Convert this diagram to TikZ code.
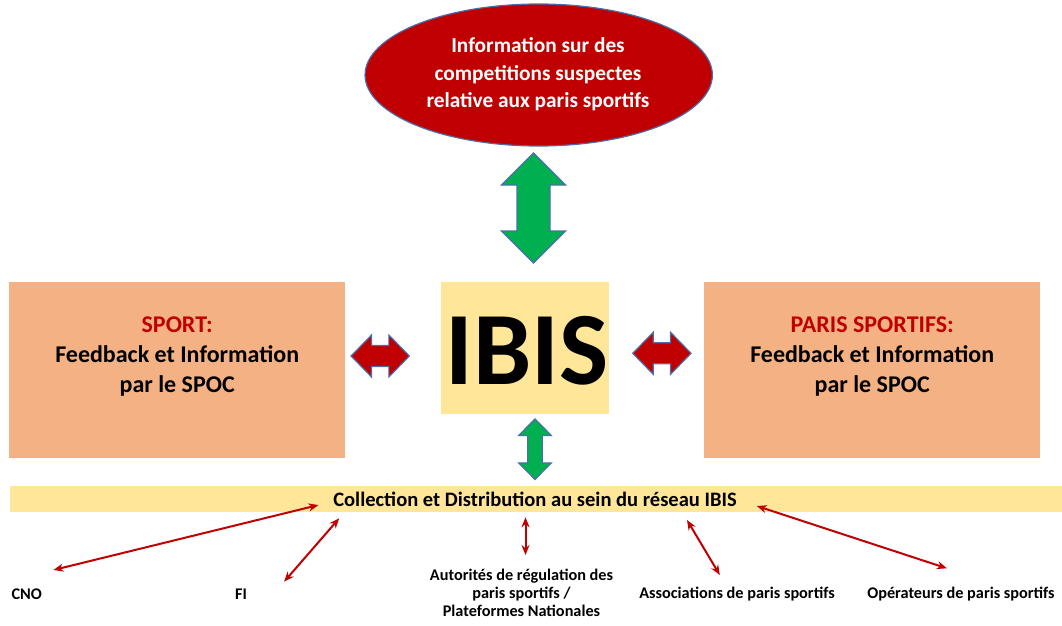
\documentclass[tikz,border=0pt]{standalone}
\usepackage{fontspec}
\setmainfont{Carlito}
\usetikzlibrary{shapes.geometric,arrows.meta}
\definecolor{dred}{HTML}{C00000}
\definecolor{fatgreen}{HTML}{00B050}
\definecolor{peach}{HTML}{F4B183}
\definecolor{pale}{HTML}{FFE699}
\definecolor{edgeblue}{HTML}{4A6EA8}
\begin{document}
\begin{tikzpicture}[x=0.75pt,y=-0.75pt,
  every node/.style={inner sep=0pt, outer sep=0pt},
  pics/fatarrow/.style n args={4}{code={
    \path[pic actions] (-#1/2,0) -- (-#1/2+#2,-#3) -- (-#1/2+#2,-#4) -- (#1/2-#2,-#4)
      -- (#1/2-#2,-#3) -- (#1/2,0) -- (#1/2-#2,#3) -- (#1/2-#2,#4)
      -- (-#1/2+#2,#4) -- (-#1/2+#2,#3) -- cycle;}},
  greenarrow/.style={fill=fatgreen, draw=edgeblue, line width=0.9pt, line join=miter},
  redarrow/.style={fill=dred, draw=edgeblue, line width=0.9pt, line join=miter},
  sidebox/.style={fill=peach, draw=none, minimum width=251.8pt, minimum height=131.5pt},
  sidetext/.style={align=center, font=\fontsize{18}{22.5}\selectfont\bfseries},
  smalllabel/.style={align=center, font=\fontsize{12.2}{13.6}\selectfont\bfseries},
  thinlink/.style={draw=dred, line width=1.5pt, {Stealth[length=7.5pt,width=6pt]}-{Stealth[length=7.5pt,width=6pt]}}
]
\useasboundingbox (0,0) rectangle (1062,625);

% top ellipse
\node[ellipse, fill=dred, draw=edgeblue, line width=0.9pt, minimum width=260.5pt, minimum height=106.5pt] (info) at (538.7,75) {};
\node[align=center, text=white, font=\fontsize{16}{20.6}\selectfont\bfseries] (infotxt) at (538,74.5)
  {Information sur des\\competitions suspectes\\relative aux paris sportifs};

% side boxes
\node[sidebox] (sportbox) at (177.2,370) {};
\node[sidetext] (sporttxt) at (177.2,357) {\textcolor{dred}{SPORT:}\\Feedback et Information\\par le SPOC};
\node[sidebox] (parisbox) at (872.2,370) {};
\node[sidetext] (paristxt) at (872.2,357) {\textcolor{dred}{PARIS SPORTIFS:}\\Feedback et Information\\par le SPOC};

% IBIS
\node[fill=pale, minimum width=126.2pt, minimum height=99.2pt] (ibisbox) at (525.2,347.8) {};
\node[font=\fontsize{78}{78}\selectfont\bfseries] (ibis) at (527,351) {IBIS};

% bar
\node[fill=pale, minimum width=789.3pt, minimum height=19.3pt] (bar) at (535.8,498.8) {};
\node[font=\fontsize{15.4}{17}\selectfont\bfseries] (bartxt) at (535,499) {Collection et Distribution au sein du réseau IBIS};

% fat arrows
\pic[greenarrow, rotate=90] at (533.5,208) {fatarrow={110}{32}{32}{16.5}};
\pic[greenarrow, rotate=90] at (535,449.2) {fatarrow={60.5}{16.5}{16.3}{7.2}};
\pic[redarrow] at (380.2,356) {fatarrow={58.3}{20.5}{21}{10.5}};
\pic[redarrow] at (661.9,353.3) {fatarrow={58.3}{20.5}{21}{10.5}};

% bottom labels
\node[smalllabel] (cno) at (26.7,594) {CNO};
\node[smalllabel] (fi) at (241,594) {FI};
\node[smalllabel] (auth) at (521.5,593) {Autorités de régulation des\\paris sportifs /\\Plateformes Nationales};
\node[smalllabel] (assoc) at (737,594) {Associations de paris sportifs};
\node[smalllabel] (oper) at (961,594) {Opérateurs de paris sportifs};

% link endpoints
\coordinate (cnoA) at (318.5,505);
\coordinate (cnoB) at (53.4,570);
\coordinate (fiA) at (339.2,518.3);
\coordinate (fiB) at (284.1,581.7);
\coordinate (authA) at (525.5,517.3);
\coordinate (authB) at (525.5,555);
\coordinate (assocA) at (687,520);
\coordinate (assocB) at (719.8,575);
\coordinate (operA) at (756.8,506);
\coordinate (operB) at (946.9,568.3);

\draw[thinlink] (cnoA) -- (cnoB);
\draw[thinlink] (fiA) -- (fiB);
\draw[thinlink] (authA) -- (authB);
\draw[thinlink] (assocA) -- (assocB);
\draw[thinlink] (operA) -- (operB);
\end{tikzpicture}
\end{document}
